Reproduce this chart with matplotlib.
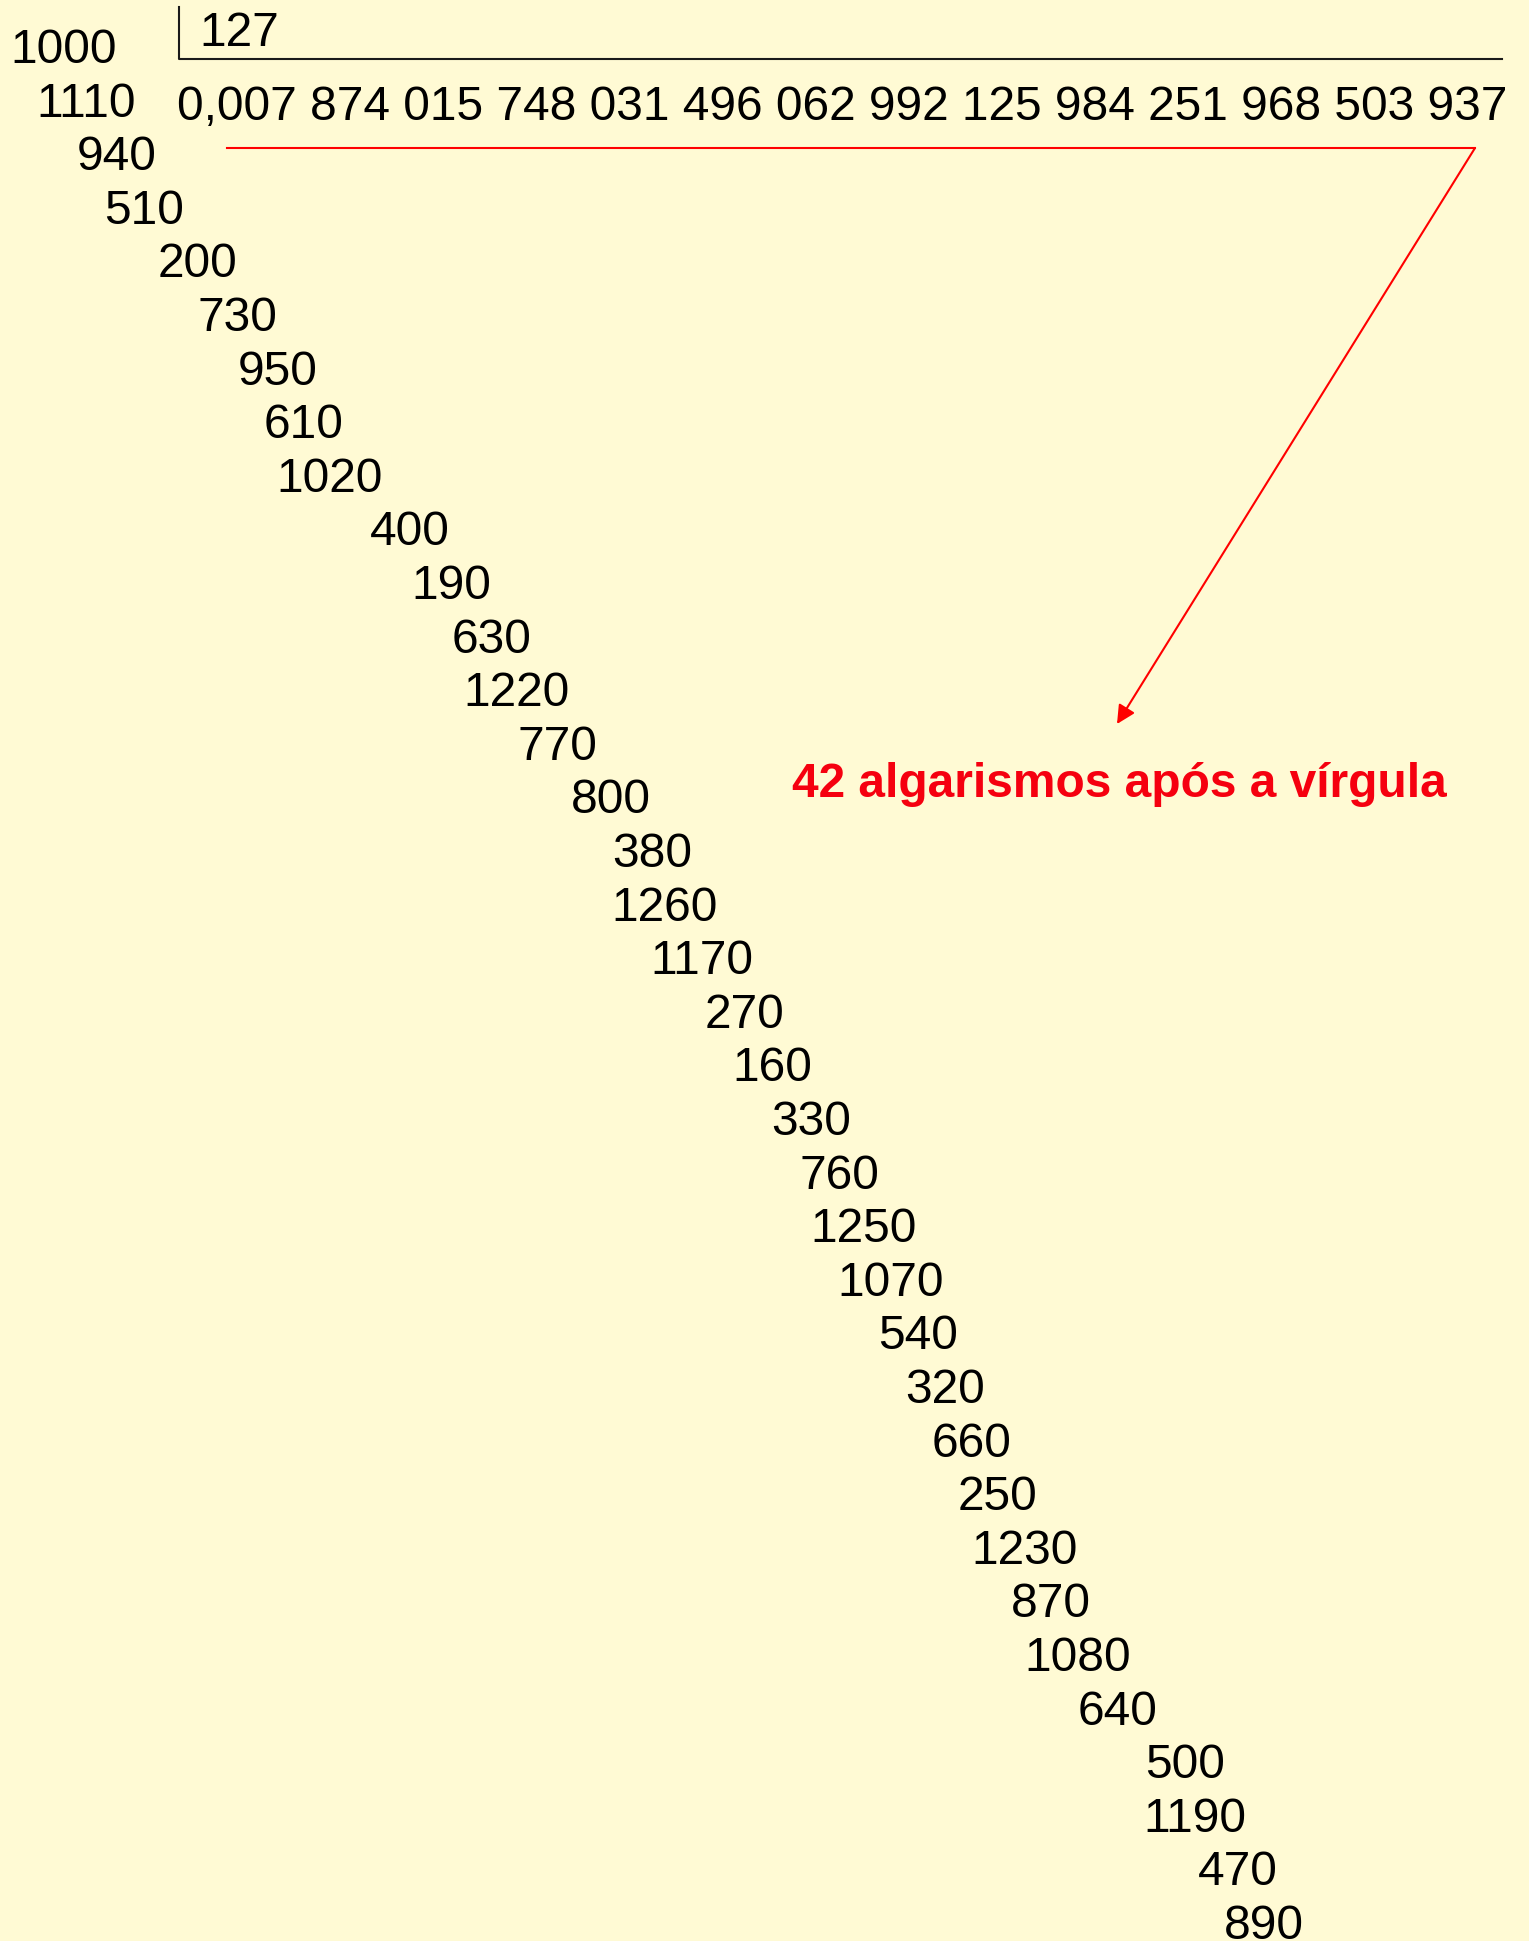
import matplotlib
matplotlib.use("Agg")
import matplotlib.pyplot as plt

plt.rcParams['font.family'] = ['Liberation Sans', 'DejaVu Sans']

# long division 1 / 127
divisor = "127"
quotient = "0,007 874 015 748 031 496 062 992 125 984 251 968 503 937"
remainders = [1000, 1110, 940, 510, 200, 730, 950, 610, 1020, 400, 190, 630,
              1220, 770, 800, 380, 1260, 1170, 270, 160, 330, 760, 1250, 1070,
              540, 320, 660, 250, 1230, 870, 1080, 640, 500, 1190, 470, 890]
note = "42 algarismos após a vírgula"

# right edge (px) of each remainder row, as laid out in the original slide
row_right = [115, 134, 155, 182, 235, 275, 316, 342, 381, 448, 489, 529,
             568, 595, 649, 690, 716, 751, 782, 810, 849, 877, 915, 942,
             956, 983, 1009, 1035, 1076, 1089, 1129, 1156, 1223, 1244, 1276, 1302]

W, H = 1529, 1941
bg = '#fffad4'
fig = plt.figure(figsize=(W / 100, H / 100), dpi=100, facecolor=bg)
ax = fig.add_axes([0, 0, 1, 1])
ax.set_xlim(0, W)
ax.set_ylim(H, 0)
ax.set_facecolor(bg)
ax.axis('off')

fs = 34.5

# division bracket
ax.plot([179, 179, 1502], [7, 59, 59], color='#1a1a1a', lw=1.5)
ax.text(199, 46, divisor, fontsize=fs, ha='left', va='baseline')
ax.text(177, 120, quotient, fontsize=fs, ha='left', va='baseline')

# remainders
for i, (r, xr) in enumerate(zip(remainders, row_right)):
    ax.text(xr + 2, 63 + 53.6 * i, str(r), fontsize=fs, ha='right', va='baseline')

# red pointer
ax.plot([227, 1475], [148, 148], color='#ff0000', lw=1.5)
ax.annotate('', xy=(1117, 724), xytext=(1475, 148),
            arrowprops=dict(arrowstyle='-|>', color='#ff0000', lw=1.5,
                            mutation_scale=28, shrinkA=0, shrinkB=0))
ax.text(792, 797, note, fontsize=fs, fontweight='bold', color='#f5000f',
        ha='left', va='baseline')

fig.savefig('out.png', dpi=100, facecolor=bg)
